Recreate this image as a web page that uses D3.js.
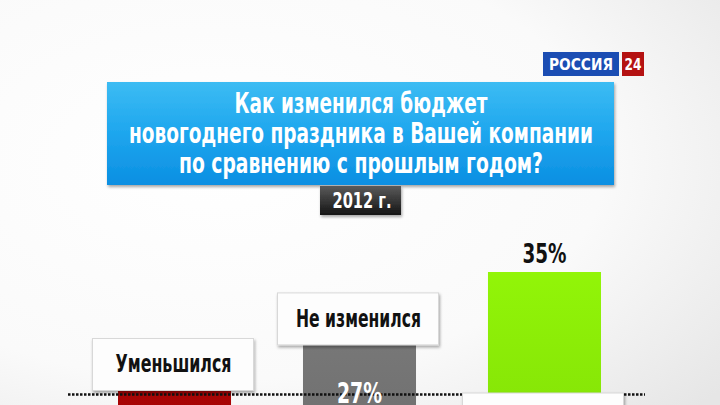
<!DOCTYPE html>
<html><head><meta charset="utf-8">
<script src="https://cdn.jsdelivr.net/npm/d3@7"></script>
<style>html,body{margin:0;padding:0;background:#fff;overflow:hidden}</style>
</head><body>
<svg id="c" width="720" height="405"></svg>
<script>
const categories = ["Уменьшился", "Не изменился", "Увеличился"];
const values = [22, 27, 35];
const valueLabels = ["22%", "27%", "35%"];
const titleLines = ["Как изменился бюджет", "новогоднего праздника в Вашей компании", "по сравнению с прошлым годом?"];
const yearLabel = "2012 г.";

const FONT = "'Liberation Sans Narrow','DejaVu Sans Condensed','Roboto',sans-serif";
const svg = d3.select("#c");
const defs = svg.append("defs");

// background
const bg = defs.append("radialGradient").attr("id","bg").attr("cx","0.3").attr("cy","0.4").attr("r","0.9");
bg.append("stop").attr("offset","0").attr("stop-color","#ffffff");
bg.append("stop").attr("offset","0.6").attr("stop-color","#fafafa");
bg.append("stop").attr("offset","1").attr("stop-color","#e6e6e6");
svg.append("rect").attr("width",720).attr("height",405).attr("fill","url(#bg)");

function lin(id, stops){
  const g = defs.append("linearGradient").attr("id",id).attr("x1",0).attr("y1",0).attr("x2",0).attr("y2",1);
  stops.forEach(s=>g.append("stop").attr("offset",s[0]).attr("stop-color",s[1]));
}
lin("blue", [[0,"#3cbcf3"],[0.5,"#1ea6ee"],[1,"#0b8fe2"]]);
lin("dark", [[0,"#5a5a5a"],[1,"#141414"]]);
lin("g0", [[0,"#a80505"],[1,"#950000"]]);
lin("g1", [[0,"#777777"],[1,"#626262"]]);
lin("g2", [[0,"#92f508"],[1,"#76d004"]]);
const shadow = defs.append("filter").attr("id","sh").attr("x","-10%").attr("y","-10%").attr("width","130%").attr("height","140%");
shadow.append("feDropShadow").attr("dx",1).attr("dy",2).attr("stdDeviation",1.5).attr("flood-color","#000").attr("flood-opacity",0.35);

// logo
svg.append("rect").attr("x",543).attr("y",52).attr("width",76).attr("height",24).attr("fill","#1b4db3");
svg.append("text").attr("x",581).attr("y",70).attr("text-anchor","middle").attr("fill","#fff")
  .attr("font-family","'DejaVu Sans','Liberation Sans',sans-serif").attr("font-weight","bold").attr("font-size",15)
  .attr("textLength",64).attr("lengthAdjust","spacingAndGlyphs").text("РОССИЯ");
svg.append("rect").attr("x",622).attr("y",52).attr("width",22).attr("height",24).attr("fill","#b41212");
svg.append("text").attr("x",633).attr("y",70).attr("text-anchor","middle").attr("fill","#fff")
  .attr("font-family","'DejaVu Sans','Liberation Sans',sans-serif").attr("font-weight","bold").attr("font-size",15)
  .attr("textLength",17).attr("lengthAdjust","spacingAndGlyphs").text("24");

// title box
svg.append("rect").attr("x",107).attr("y",82).attr("width",507).attr("height",103).attr("fill","url(#blue)").attr("filter","url(#sh)");
const tW = [253, 464, 364];
svg.selectAll("text.title").data(titleLines).join("text").attr("class","title")
  .attr("x",361).attr("y",(d,i)=>113+i*30).attr("text-anchor","middle").attr("fill","#fff")
  .attr("font-family",FONT).attr("font-weight","bold").attr("font-size",27.5)
  .attr("textLength",(d,i)=>tW[i]).attr("lengthAdjust","spacingAndGlyphs").text(d=>d);

// year box
svg.append("rect").attr("x",320).attr("y",186).attr("width",81).attr("height",29).attr("fill","url(#dark)").attr("filter","url(#sh)");
svg.append("text").attr("x",362).attr("y",208).attr("text-anchor","middle").attr("fill","#fff")
  .attr("font-family",FONT).attr("font-weight","bold").attr("font-size",22)
  .attr("textLength",59).attr("lengthAdjust","spacingAndGlyphs").text(yearLabel);

// scales
const x = d3.scaleBand().domain(categories).range([118, 601]).paddingInner(0.389).paddingOuter(0);
const y = d3.scaleLinear().domain([0, 35]).range([591, 272]);

// bars
svg.selectAll("rect.bar").data(values).join("rect").attr("class","bar")
  .attr("x",(d,i)=>x(categories[i])).attr("y",d=>y(d))
  .attr("width",x.bandwidth()).attr("height",d=>y(0)-y(d))
  .attr("fill",(d,i)=>"url(#g"+i+")");

// dotted baseline
svg.append("line").attr("x1",68).attr("x2",645).attr("y1",394.5).attr("y2",394.5)
  .attr("stroke","#111").attr("stroke-width",2.5).attr("stroke-dasharray","2.5,1.5");

// value labels
svg.selectAll("text.val").data(values).join("text").attr("class","val")
  .attr("x",(d,i)=>x(categories[i])+x.bandwidth()/2)
  .attr("y",(d,i)=> i===2 ? y(d)-9 : y(d)+58)
  .attr("text-anchor","middle")
  .attr("fill",(d,i)=> i===2 ? "#111" : "#fff")
  .attr("font-family",FONT).attr("font-weight","bold").attr("font-size",(d,i)=>i===2?27:29)
  .attr("textLength",(d,i)=>i===2?44:45).attr("lengthAdjust","spacingAndGlyphs")
  .text((d,i)=>valueLabels[i]);

// category label boxes (box bottom sits on bar top; third box sits on baseline)
const boxTop = (d,i)=> i===2 ? 393 : y(d)-52;
const lblW = [116, 125, 112];
const g = svg.selectAll("g.lbl").data(values).join("g").attr("class","lbl");
g.append("rect")
  .attr("x",(d,i)=>x(categories[i])+x.bandwidth()/2-82).attr("y",boxTop)
  .attr("width",161).attr("height",52).attr("fill","#fdfdfd")
  .attr("stroke","#d8d8d8").attr("stroke-width",1).attr("filter","url(#sh)");
g.append("text")
  .attr("x",(d,i)=>x(categories[i])+x.bandwidth()/2-1).attr("y",(d,i)=>boxTop(d,i)+34)
  .attr("text-anchor","middle").attr("fill","#111")
  .attr("font-family",FONT).attr("font-weight","bold").attr("font-size",24)
  .attr("textLength",(d,i)=>lblW[i]).attr("lengthAdjust","spacingAndGlyphs")
  .text((d,i)=>categories[i]);
</script>
</body></html>
